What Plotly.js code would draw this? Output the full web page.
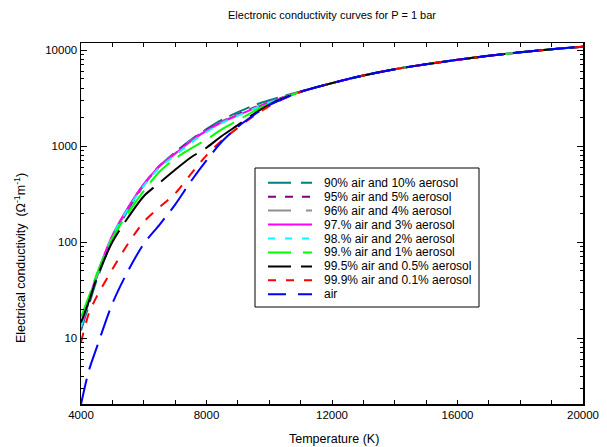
<!DOCTYPE html>
<html>
<head>
<meta charset="utf-8">
<script src="https://cdn.plot.ly/plotly-3.0.1.min.js"></script>
<style>html,body{margin:0;padding:0;background:#fff;}#chart{width:607px;height:447px;}</style>
</head>
<body>
<div id="chart"></div>
<script>
const temperature = [4000,4250,4500,5000,5500,6000,6500,7000,7500,8000,8500,9000,9500,10000,10500,11000,12000,13000,14000,15000,16000,17000,18000,19000,20000];
const commonHigh = [4519,5433,6310,7112,7907,8690,9462,10186,10839];
const air90 = [12,22,40,105,215,390,620,860,1160,1500,1880,2250,2650,3000,3350,3700].concat(commonHigh);
const air95 = [13,24,43,112,225,400,620,850,1140,1470,1810,2150,2500,2880,3270,3680].concat(commonHigh);
const air96 = [13,24,43,113,226,400,618,840,1130,1450,1790,2120,2470,2860,3250,3680].concat(commonHigh);
const air97 = [13,25,45,117,229,398,617,832,1122,1445,1778,2089,2455,2851,3236,3673].concat(commonHigh);
const air98 = [13,25,45,115,222,385,595,800,1080,1400,1740,2070,2440,2840,3230,3673].concat(commonHigh);
const air99 = [16.6,27,46,110,200,340,540,740,940,1170,1500,1850,2300,2750,3200,3673].concat(commonHigh);
const air995 = [14.5,24,42,100,180,300,413,566,760,960,1280,1650,2150,2700,3200,3673].concat(commonHigh);
const air999 = [9,18,27,52,96,162,230,320,510,800,1150,1550,2050,2600,3150,3673].concat(commonHigh);
const airOnly = [2.04,4.57,7.94,22.9,50.1,95.5,151,245,427,708,1122,1585,2089,2661,3162,3673].concat(commonHigh);

const names = ["90% air and 10% aerosol","95% air and 5% aerosol","96% air and 4% aerosol","97.% air and 3% aerosol","98.% air and 2% aerosol","99.% air and 1% aerosol","99.5% air and 0.5% aerosol","99.9% air and 0.1% aerosol","air"];
const xTickLabels = ['4000','8000','12000','16000','20000'];
const yTickLabels = ['10','100','1000','10000'];
const series = [air90, air95, air96, air97, air98, air99, air995, air999, airOnly];
const colors = ["#008080","#800080","#909090","#ff00ff","#00ffff","#00ff00","#000000","#ff0000","#0000ff"];
const dashes = ["22px,8px","8px,8px","24px,12px","solid","8px,9px","28px,10px","45px,10px","10px,10px","26px,10px"];
const legendDashes = ["23px,10px","8px,9px","23px,15px","solid","7px,10px","23px,12px","23px,10px","8px,10px","18px,12px"];

const traces = series.map((s, i) => ({
  x: temperature, y: s, name: names[i], type: 'scatter', mode: 'lines', showlegend: false,
  line: {color: colors[i], width: 2, dash: dashes[i], shape: 'spline', smoothing: 0.8}
}));

// plot area in pixels: x 81..583, y 43..404
const px2x = p => (p - 81) / 502;
const px2y = p => (404 - p) / 361;

const fam = '"Liberation Sans", Arial, sans-serif';
const font = {family: fam, size: 11.5, color: '#000'};

const shapes = [{type: 'rect', xref: 'paper', yref: 'paper', x0: px2x(255), x1: px2x(479), y0: px2y(168), y1: px2y(307), line: {color: '#000', width: 1}, fillcolor: '#fff', layer: 'above'}];
const annotations = [];
names.forEach((n, i) => {
  const yy = px2y(182.7 + i * 13.95);
  shapes.push({type: 'line', xref: 'paper', yref: 'paper', x0: px2x(268), x1: px2x(312), y0: yy, y1: yy, line: {color: colors[i], width: 2, dash: legendDashes[i]}, layer: 'above'});
  annotations.push({xref: 'paper', yref: 'paper', x: px2x(322), y: yy, xanchor: 'left', yanchor: 'middle', text: n, showarrow: false, font: {family: fam, size: 12, color: '#000'}});
});
annotations.push({xref: 'paper', yref: 'paper', x: px2x(20), y: px2y(258), xanchor: 'center', yanchor: 'middle', textangle: -90, showarrow: false,
  text: 'Electrical conductivity  (Ω<sup>-1</sup>m<sup>-1</sup>)', font: {family: fam, size: 12.5, color: '#000'}});
annotations.push({xref: 'paper', yref: 'paper', x: px2x(334), y: px2y(439), xanchor: 'center', yanchor: 'middle', showarrow: false,
  text: 'Temperature (K)', font: {family: fam, size: 12.5, color: '#000'}});

const layout = {
  width: 607, height: 447,
  margin: {l: 81, r: 24, t: 43, b: 43},
  paper_bgcolor: '#fff', plot_bgcolor: '#fff',
  font: font,
  showlegend: false,
  title: {text: 'Electronic conductivity curves for P = 1 bar', font: {family: fam, size: 11, color: '#000'}, x: 0.5, xanchor: 'center', xref: 'paper', y: 0.966, yanchor: 'middle', yref: 'container'},
  xaxis: {
    range: [4000, 20000], showgrid: false, zeroline: false,
    showline: true, linecolor: '#000', linewidth: 1.5, mirror: 'ticks',
    ticks: 'inside', ticklen: 4, tickcolor: '#000', tickwidth: 1,
    tickmode: 'array', tickvals: [4000, 8000, 12000, 16000, 20000], ticktext: xTickLabels,
    minor: {tickmode: 'array', tickvals: [5000,6000,7000,9000,10000,11000,13000,14000,15000,17000,18000,19000], ticks: 'inside', ticklen: 4, tickcolor: '#000', tickwidth: 1},
    tickfont: font
  },
  yaxis: {
    type: 'log', range: [0.3125, 4.073], showgrid: false, zeroline: false,
    showline: true, linecolor: '#000', linewidth: 1.5, mirror: 'ticks',
    ticks: 'inside', ticklen: 6, tickcolor: '#000', tickwidth: 1,
    tickmode: 'array', tickvals: [10, 100, 1000, 10000], ticktext: yTickLabels,
    minor: {tickmode: 'array', tickvals: [3,4,5,6,7,8,9,20,30,40,50,60,70,80,90,200,300,400,500,600,700,800,900,2000,3000,4000,5000,6000,7000,8000,9000], ticks: 'inside', ticklen: 3, tickcolor: '#000', tickwidth: 1},
    tickfont: font
  },
  shapes: shapes,
  annotations: annotations
};
Plotly.newPlot('chart', traces, layout, {staticPlot: true, displayModeBar: false});
</script>
</body>
</html>
